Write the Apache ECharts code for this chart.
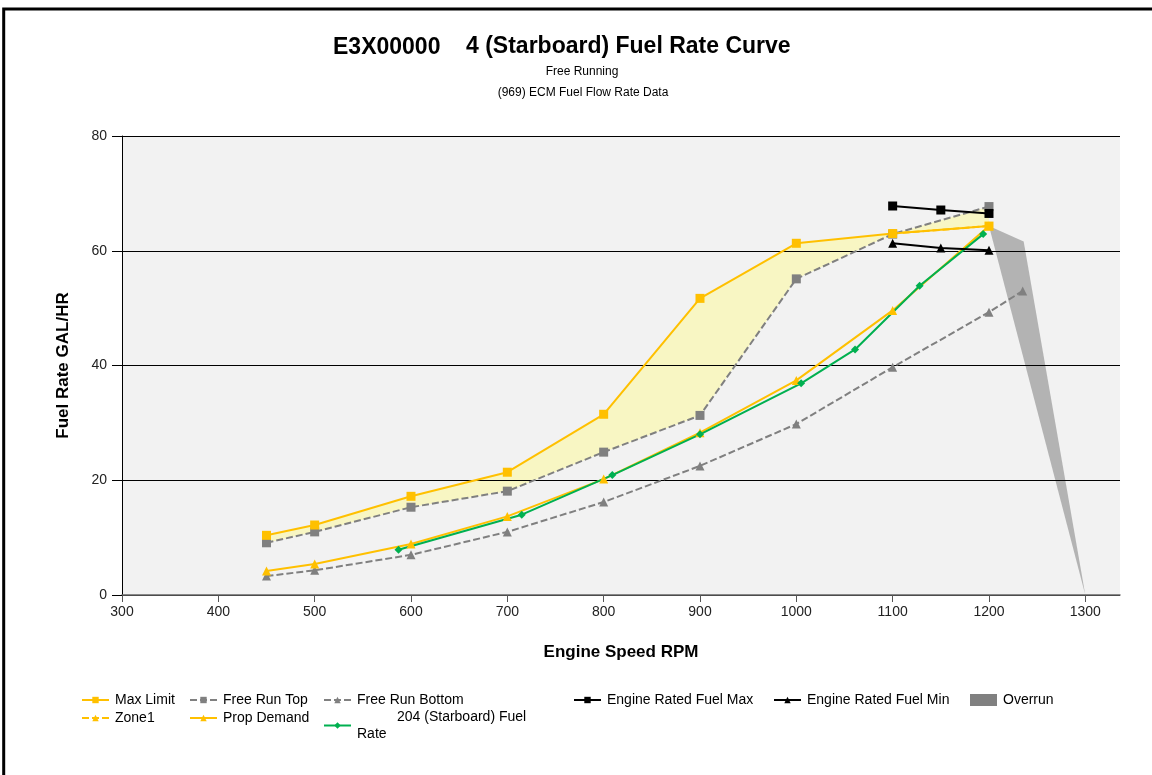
<!DOCTYPE html>
<html lang="en">
<head>
    <meta charset="UTF-8">
    <title>Fuel Rate Curve</title>
    <style>
        html, body { margin: 0; padding: 0; background: #fff; }
    </style>
</head>
<body>
    <div id="chart" style="width:1152px;height:775px;"></div>
<script src="https://cdn.jsdelivr.net/npm/echarts@6.0.0/dist/echarts.min.js"></script>
<script>
    // data
    var rpm = [450, 500, 600, 700, 800, 900, 1000, 1100, 1200];
    var maxLimit = [10.4, 12.2, 17.2, 21.4, 31.5, 51.7, 61.3, 63.0, 64.3];
    var freeRunTop = [9.1, 11.0, 15.3, 18.1, 24.9, 31.3, 55.1, 62.9, 67.7];
    var propDemand = [4.2, 5.4, 8.9, 13.7, 20.2, 28.3, 37.4, 49.6, 64.3];

    var bottomRpm = [450, 500, 600, 700, 800, 900, 1000, 1100, 1200, 1235];
    var freeRunBottom = [3.3, 4.3, 7.0, 11.0, 16.2, 22.5, 29.8, 39.7, 49.3, 53.0];

    var zone1Rpm = [1100, 1200];
    var zone1 = [63.0, 64.3];

    var fuelRpm = [587, 715, 809, 900, 1005, 1061, 1128, 1194];
    var fuelRate = [7.9, 14.0, 20.9, 28.0, 36.9, 42.8, 53.9, 62.9];

    var ratedRpm = [1100, 1150, 1200];
    var ratedMax = [67.8, 67.1, 66.5];
    var ratedMin = [61.3, 60.5, 60.1];

    var overrunRpm = [1200, 1236, 1300];
    var overrunFuel = [64.3, 61.6, 0];

    var ORANGE = '#ffc000', GRAY = '#808080', GREEN = '#00b050';
    var FONT = '"Liberation Sans", Arial, sans-serif';

    function pairs(xs, ys) {
        return xs.map(function (x, i) { return [x, ys[i]]; });
    }

    // yellow area between Max Limit and Free Run Top
    function bandItem(params, api) {
        if (params.dataIndex !== 0) return;
        var pts = [];
        for (var i = 0; i < rpm.length; i++) pts.push(api.coord([rpm[i], maxLimit[i]]));
        for (var j = rpm.length - 1; j >= 0; j--) pts.push(api.coord([rpm[j], freeRunTop[j]]));
        return { type: 'polygon', shape: { points: pts }, style: { fill: '#f8f6c3' } };
    }

    function overrunItem(params, api) {
        if (params.dataIndex !== 0) return;
        var pts = overrunRpm.map(function (x, i) { return api.coord([x, overrunFuel[i]]); });
        return { type: 'polygon', shape: { points: pts }, style: { fill: 'rgba(128,128,128,0.55)' } };
    }

    function lineSeries(name, data, color, dashed, symbol, size) {
        return {
            name: name,
            type: 'line',
            data: data,
            symbol: symbol,
            symbolSize: size,
            color: color,
            lineStyle: { width: 2, color: color, type: dashed ? [7, 3] : 'solid' },
            itemStyle: { color: color },
            z: 3
        };
    }

    function legendAt(name, left, top, extra) {
        var l = {
            data: [name],
            left: left,
            top: top,
            padding: 0,
            itemWidth: 27,
            itemHeight: 8,
            itemGap: 0,
            selectedMode: false,
            textStyle: { fontFamily: FONT, fontSize: 14, color: '#000', padding: [0, 0, 0, 1] }
        };
        for (var k in extra) l[k] = extra[k];
        return l;
    }

    var option = {
        animation: false,
        backgroundColor: '#fff',
        grid: {
            left: 122, right: 32, top: 136, bottom: 180,
            show: true, backgroundColor: '#f2f2f2', borderWidth: 0, z: -10
        },
        xAxis: {
            type: 'value',
            min: 300, max: 1336, interval: 100,
            name: 'Engine Speed RPM',
            nameLocation: 'middle',
            nameGap: 49,
            nameTextStyle: { fontFamily: FONT, fontSize: 17, fontWeight: 'bold', color: '#000' },
            axisLine: { onZero: false, lineStyle: { color: '#666', width: 1.5 } },
            axisTick: { length: 7, lineStyle: { color: '#555' } },
            axisLabel: {
                showMaxLabel: false, margin: 10, fontFamily: FONT, fontSize: 14, color: '#222',
                formatter: function (v) { return String(v); }
            },
            splitLine: { show: false }
        },
        yAxis: {
            type: 'value',
            min: 0, max: 80, interval: 20,
            name: 'Fuel Rate GAL/HR',
            nameLocation: 'middle',
            nameGap: 50,
            nameTextStyle: { fontFamily: FONT, fontSize: 17, fontWeight: 'bold', color: '#000' },
            axisLine: { show: true, lineStyle: { color: '#000', width: 1 } },
            axisTick: { show: true, length: 10, lineStyle: { color: '#000' } },
            axisLabel: { margin: 15, fontFamily: FONT, fontSize: 14, color: '#222' },
            splitLine: { show: true, lineStyle: { color: '#000', width: 1 } }
        },
        legend: [
            legendAt('Max Limit', 81, 693),
            legendAt('Free Run Top', 189, 693),
            legendAt('Free Run Bottom', 323, 693),
            legendAt('Engine Rated Fuel Max', 573, 693),
            legendAt('Engine Rated Fuel Min', 773, 693),
            legendAt('Overrun', 970, 693, { itemHeight: 12, data: [{ name: 'Overrun', icon: 'rect' }] }),
            legendAt('Zone1', 81, 711),
            legendAt('Prop Demand', 189, 711),
            legendAt('204 (Starboard) Fuel Rate', 323, 710, {
                formatter: function () { return '{a|204 (Starboard) Fuel}\n{b|Rate}'; },
                textStyle: {
                    fontFamily: FONT, fontSize: 14, color: '#000',
                    rich: {
                        a: { fontFamily: FONT, fontSize: 14, color: '#000', padding: [0, 0, 0, 41], lineHeight: 17 },
                        b: { fontFamily: FONT, fontSize: 14, color: '#000', padding: [0, 0, 0, 1], lineHeight: 17 }
                    }
                }
            })
        ],
        graphic: [
            {
                type: 'rect', silent: true,
                shape: { x: 3.7, y: 9, width: 1200, height: 800 },
                style: { fill: 'none', stroke: '#000', lineWidth: 3 }
            },
            {
                type: 'text', x: 333, y: 48,
                style: { text: 'E3X00000', fontFamily: FONT, fontSize: 23, fontWeight: 'bold', fill: '#000', textVerticalAlign: 'middle' }
            },
            {
                type: 'text', x: 466, y: 47,
                style: { text: '4 (Starboard) Fuel Rate Curve', fontFamily: FONT, fontSize: 23, fontWeight: 'bold', fill: '#000', textVerticalAlign: 'middle' }
            },
            {
                type: 'text', x: 582, y: 72,
                style: { text: 'Free Running', fontFamily: FONT, fontSize: 12, fill: '#000', textAlign: 'center', textVerticalAlign: 'middle' }
            },
            {
                type: 'text', x: 583, y: 93,
                style: { text: '(969) ECM Fuel Flow Rate Data', fontFamily: FONT, fontSize: 12, fill: '#000', textAlign: 'center', textVerticalAlign: 'middle' }
            }
        ],
        series: [
            {
                name: 'band',
                type: 'custom',
                renderItem: bandItem,
                data: pairs(rpm, maxLimit),
                encode: { x: 0, y: 1 },
                silent: true,
                z: -5
            },
            {
                name: 'Overrun',
                type: 'custom',
                renderItem: overrunItem,
                data: pairs(overrunRpm, overrunFuel),
                encode: { x: 0, y: 1 },
                itemStyle: { color: GRAY },
                silent: true,
                z: -5
            },
            lineSeries('Free Run Bottom', pairs(bottomRpm, freeRunBottom), GRAY, true, 'triangle', 9),
            lineSeries('Prop Demand', pairs(rpm, propDemand), ORANGE, false, 'triangle', 9),
            lineSeries('Free Run Top', pairs(rpm, freeRunTop), GRAY, true, 'rect', 9),
            lineSeries('Max Limit', pairs(rpm, maxLimit), ORANGE, false, 'rect', 9),
            lineSeries('Zone1', pairs(zone1Rpm, zone1), ORANGE, true, 'triangle', 8),
            lineSeries('204 (Starboard) Fuel Rate', pairs(fuelRpm, fuelRate), GREEN, false, 'diamond', 8),
            lineSeries('Engine Rated Fuel Max', pairs(ratedRpm, ratedMax), '#000', false, 'rect', 9),
            lineSeries('Engine Rated Fuel Min', pairs(ratedRpm, ratedMin), '#000', false, 'triangle', 9)
        ]
    };

    var chart = echarts.init(document.getElementById('chart'));
    chart.setOption(option);
</script>
</body>
</html>
